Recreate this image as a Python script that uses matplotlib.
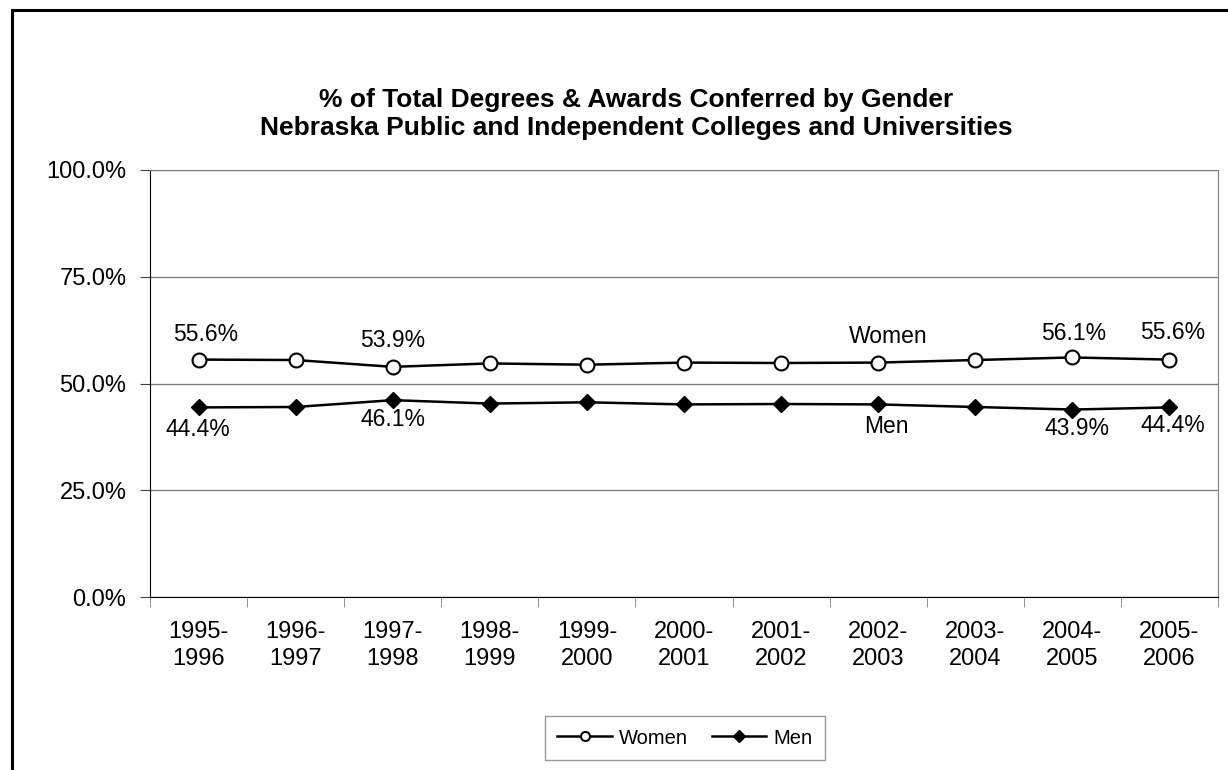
import matplotlib.pyplot as plt
from matplotlib.patches import Rectangle
import numpy as np

years = ['1995-\n1996', '1996-\n1997', '1997-\n1998', '1998-\n1999', '1999-\n2000',
         '2000-\n2001', '2001-\n2002', '2002-\n2003', '2003-\n2004', '2004-\n2005',
         '2005-\n2006']
women = [55.6, 55.5, 53.9, 54.7, 54.4, 54.9, 54.8, 54.9, 55.5, 56.1, 55.6]
men = [44.4, 44.5, 46.1, 45.3, 45.6, 45.1, 45.2, 45.1, 44.5, 43.9, 44.4]

# which points get labels, and pixel offsets for them
women_lbl = {0: (7, 25), 2: (0, 26), 9: (1, 24), 10: (3, 27)}
men_lbl = {0: (-1, -22), 2: (0, -19), 9: (5, -19), 10: (3, -18)}

plt.rcParams['font.family'] = ['Liberation Sans', 'DejaVu Sans']

fig = plt.figure(figsize=(12.28, 7.70), dpi=100)
ax = fig.add_axes([150/1228, 1-597/770, (1218-150)/1228, (597-170)/770])

x = np.arange(len(years))
ax.plot(x, women, color='black', lw=1.8, marker='o', markersize=10,
        markerfacecolor='white', markeredgecolor='black', markeredgewidth=1.5,
        label='Women', zorder=3)
ax.plot(x, men, color='black', lw=1.8, marker='D', markersize=8.5,
        markerfacecolor='black', markeredgecolor='black', label='Men', zorder=3)

for i, (dx, dy) in women_lbl.items():
    ax.annotate('%.1f%%' % women[i], (x[i], women[i]), xytext=(dx, dy),
                textcoords='offset pixels', ha='center', va='center', fontsize=16.5)
for i, (dx, dy) in men_lbl.items():
    ax.annotate('%.1f%%' % men[i], (x[i], men[i]), xytext=(dx, dy),
                textcoords='offset pixels', ha='center', va='center', fontsize=16.5)
ax.annotate('Women', (x[7], women[7]), xytext=(10, 26), textcoords='offset pixels',
            ha='center', va='center', fontsize=16.5)
ax.annotate('Men', (x[7], men[7]), xytext=(8, -22), textcoords='offset pixels',
            ha='center', va='center', fontsize=16.5)

ax.set_xlim(-0.5, len(years) - 0.5)
ax.set_ylim(0, 100)
ax.set_yticks([0, 25, 50, 75, 100])
ax.set_yticklabels(['%.1f%%' % v for v in [0, 25, 50, 75, 100]], fontsize=17)
ax.set_xticks(x)
ax.set_xticklabels(years, fontsize=17, linespacing=1.3)
ax.set_xticks(np.arange(-0.5, len(years)), minor=True)
ax.tick_params(axis='x', which='major', length=0, pad=17)
ax.tick_params(axis='x', which='minor', length=7, direction='out', color='#808080')
ax.tick_params(axis='y', length=7, direction='out', color='#404040', pad=10)
ax.grid(axis='y', color='#808080', lw=1)
ax.set_axisbelow(True)
for s in ['top', 'right']:
    ax.spines[s].set_color('#808080')
for s in ['left', 'bottom']:
    ax.spines[s].set_color('black')

fig.text(636/1228, 1-100/770, '% of Total Degrees & Awards Conferred by Gender',
         ha='center', va='center', fontsize=19, fontweight='bold')
fig.text(636/1228, 1-128/770, 'Nebraska Public and Independent Colleges and Universities',
         ha='center', va='center', fontsize=19, fontweight='bold')

leg = fig.legend(loc='center', bbox_to_anchor=(685/1228, 1-738/770), ncol=2,
                 fontsize=14.5, frameon=True, fancybox=False, edgecolor='#808080',
                 handlelength=2.7, handletextpad=0.35, columnspacing=1.2,
                 borderpad=0.6)
leg.get_frame().set_linewidth(1)
for h in leg.legend_handles:
    h.set_markersize(6.5)
    h.set_linewidth(1.8)

fig.patches.append(Rectangle((12/1228, -0.1), 2, 1.1 - 10/770, transform=fig.transFigure,
                             fill=False, edgecolor='black', lw=2.2))

fig.savefig('out.png', dpi=100)
